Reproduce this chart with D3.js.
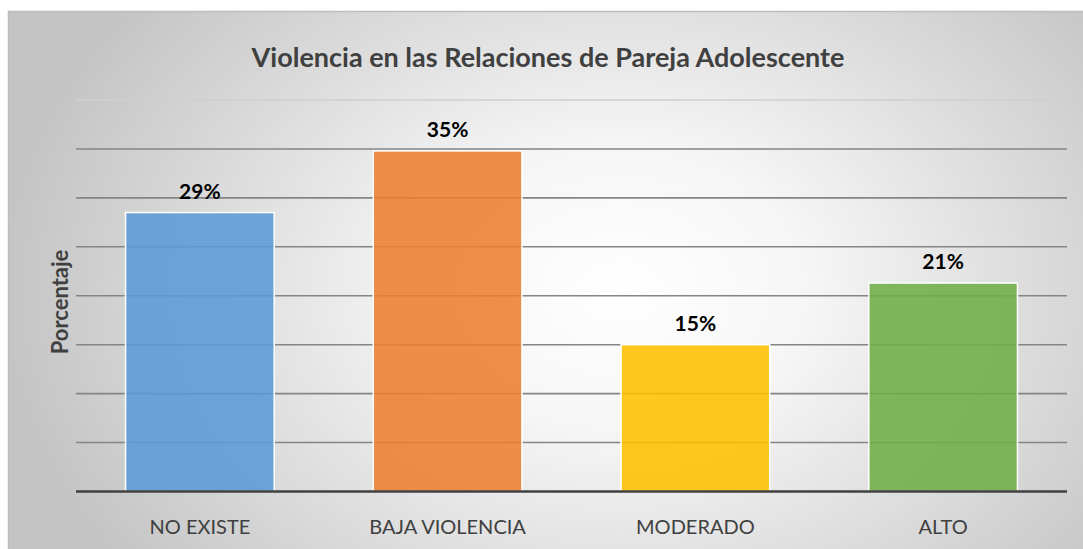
<!DOCTYPE html>
<html>
    <head>
        <meta charset="utf-8">
        <script src="https://d3js.org/d3.v7.min.js"></script>
        <style>
            body { margin: 0; background: #fff; }
            text { font-family: Lato, "Open Sans", sans-serif; }
        </style>
    </head>
    <body>
        <div id="my_dataviz"></div>
        <script>

            // data
            var categories = ["NO EXISTE", "BAJA VIOLENCIA", "MODERADO", "ALTO"];
            var values = [28.5, 34.8, 15.0, 21.3];
            var colors = ["#5B9BD5", "#ED7D31", "#FFC000", "#70AD47"];
            var yTicks = [0, 5, 10, 15, 20, 25, 30, 35, 40];

            var width = 1083,
                height = 549;
            var plot = {left: 76, right: 1067, top: 100, bottom: 491.5};

            var svg = d3.select("#my_dataviz")
                .append("svg")
                    .attr("width", width)
                    .attr("height", height);

            // background: soft radial grey gradient
            var defs = svg.append("defs");
            var grad = defs.append("radialGradient")
                .attr("id", "bg")
                .attr("gradientUnits", "userSpaceOnUse")
                .attr("cx", 620).attr("cy", 290)
                .attr("r", 620)
                .attr("gradientTransform", "translate(620,290) scale(1,0.75) translate(-620,-290)");
            grad.append("stop").attr("offset", "0%").attr("stop-color", "#ffffff");
            grad.append("stop").attr("offset", "30%").attr("stop-color", "#f6f6f6");
            grad.append("stop").attr("offset", "100%").attr("stop-color", "#c4c4c4");

            svg.append("rect")
                .attr("x", 8.5).attr("y", 11.5)
                .attr("width", width).attr("height", height)
                .attr("fill", "url(#bg)")
                .attr("stroke", "#bdbdbd")
                .attr("stroke-width", 1.5);

            // scales
            var x = d3.scaleBand()
                .domain(categories)
                .range([plot.left, plot.right])
                .paddingInner(0.4)
                .paddingOuter(0.2);

            var y = d3.scaleLinear()
                .domain([0, 40])
                .range([plot.bottom, plot.top]);

            // gridlines
            svg.append("g")
                .selectAll("line")
                .data(yTicks.slice(1))
                .join("line")
                    .attr("x1", plot.left)
                    .attr("x2", plot.right)
                    .attr("y1", d => y(d))
                    .attr("y2", d => y(d))
                    .attr("stroke", d => d == 40 ? "#cfcfcf" : "#858585")
                    .attr("stroke-width", 1.6);

            // bars
            svg.append("g")
                .selectAll("rect")
                .data(values)
                .join("rect")
                    .attr("x", (d, i) => x(categories[i]))
                    .attr("y", d => y(d))
                    .attr("width", x.bandwidth())
                    .attr("height", d => y(0) - y(d))
                    .attr("fill", (d, i) => colors[i])
                    .attr("fill-opacity", 0.88)
                    .attr("stroke", "#ffffff")
                    .attr("stroke-width", 1.5);

            // baseline
            svg.append("line")
                .attr("x1", plot.left).attr("x2", plot.right)
                .attr("y1", y(0)).attr("y2", y(0))
                .attr("stroke", "#404040")
                .attr("stroke-width", 2.6);

            // data labels
            svg.append("g")
                .selectAll("text")
                .data(values)
                .join("text")
                    .attr("x", (d, i) => x(categories[i]) + x.bandwidth() / 2)
                    .attr("y", d => y(d) - 14)
                    .attr("text-anchor", "middle")
                    .attr("font-size", 21)
                    .attr("font-weight", "bold")
                    .attr("fill", "#000")
                    .text(d => Math.round(d) + "%");

            // category labels
            svg.append("g")
                .selectAll("text")
                .data(categories)
                .join("text")
                    .attr("x", d => x(d) + x.bandwidth() / 2)
                    .attr("y", 534)
                    .attr("text-anchor", "middle")
                    .attr("font-size", 20)
                    .attr("fill", "#404040")
                    .text(d => d);

            // title
            svg.append("text")
                .attr("x", 548)
                .attr("y", 67)
                .attr("text-anchor", "middle")
                .attr("font-size", 27)
                .attr("font-weight", "bold")
                .attr("fill", "#404040")
                .text("Violencia en las Relaciones de Pareja Adolescente");

            // y axis title
            svg.append("text")
                .attr("transform", "translate(68,302) rotate(-90)")
                .attr("text-anchor", "middle")
                .attr("font-size", 22)
                .attr("font-weight", "bold")
                .attr("fill", "#404040")
                .text("Porcentaje");
        </script>
    </body>
</html>
